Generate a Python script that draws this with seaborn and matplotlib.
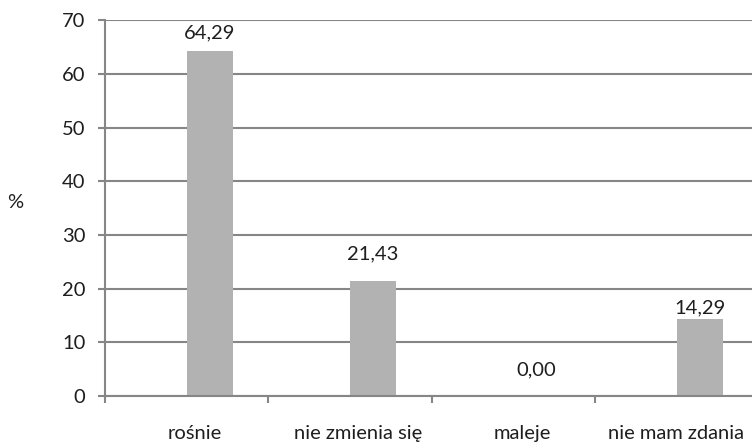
import matplotlib
matplotlib.use("Agg")
import matplotlib.pyplot as plt
import seaborn as sns
import pandas as pd

# Values
categories = ["rośnie", "nie zmienia się", "maleje", "nie mam zdania"]
percent = [64.29, 21.43, 0.00, 14.29]
value_labels = ["64,29", "21,43", "0,00", "14,29"]
# The original has an empty first series, so bars sit right of the category centre
series = ["brak", "%"]
empty = [0, 0, 0, 0]

sns.set_theme(style="white")
plt.rcParams["font.family"] = ["Lato", "DejaVu Sans"]

GRID = "#868686"
BAR = "#b2b2b2"
TEXT = "#1e1e1e"
FS = 14.5

df = pd.concat([
    pd.DataFrame({"kategoria": categories, "procent": empty, "seria": series[0]}),
    pd.DataFrame({"kategoria": categories, "procent": percent, "seria": series[1]}),
])

fig = plt.figure(figsize=(7.52, 4.48), dpi=100)
ax = fig.add_axes([105 / 752, 52 / 448, 654 / 752, 375.5 / 448])

sns.barplot(data=df, x="kategoria", y="procent", hue="seria", hue_order=series,
            palette={s: BAR for s in series}, width=0.56, saturation=1,
            linewidth=0, legend=False, ax=ax, zorder=3)

ax.set_ylim(0, 70)
ax.set_xlim(-0.5, 3.5)
ax.set_yticks(range(0, 71, 10))
ax.yaxis.grid(True, color=GRID, linewidth=1.5, zorder=0)
ax.set_axisbelow(True)

for side in ["top", "right"]:
    ax.spines[side].set_visible(False)
for side in ["left", "bottom"]:
    ax.spines[side].set_color(GRID)
    ax.spines[side].set_linewidth(1.5)
    ax.spines[side].set_zorder(4)

ax.tick_params(axis="y", length=5, width=1.5, color=GRID, labelsize=FS,
               labelcolor=TEXT, pad=9, left=True)

# category labels: slightly right of centre, last one pulled in to fit the figure
ax.set_xticks([0.05, 1.05, 2.05, 2.99])
ax.set_xticklabels(categories)
ax.tick_params(axis="x", which="major", length=0, labelsize=FS,
               labelcolor=TEXT, pad=21)
ax.set_xticks([-0.5, 0.5, 1.5, 2.5], minor=True)
ax.tick_params(axis="x", which="minor", length=5, width=1.5, color=GRID,
               bottom=True, direction="out")

# value labels above bars (offsets in points, as placed in the original)
offsets = [13, 19.5, 19, 8.5]
for i, (v, lab) in enumerate(zip(percent, value_labels)):
    ax.annotate(lab, (i + 0.14, v), xytext=(0, offsets[i]),
                textcoords="offset points", ha="center", va="center",
                fontsize=FS, color=TEXT)

ax.set_xlabel("")
ax.set_ylabel("%", rotation=0, fontsize=FS, color=TEXT)
ax.yaxis.set_label_coords(-0.138, 0.493)

fig.savefig("out.png", dpi=100)
